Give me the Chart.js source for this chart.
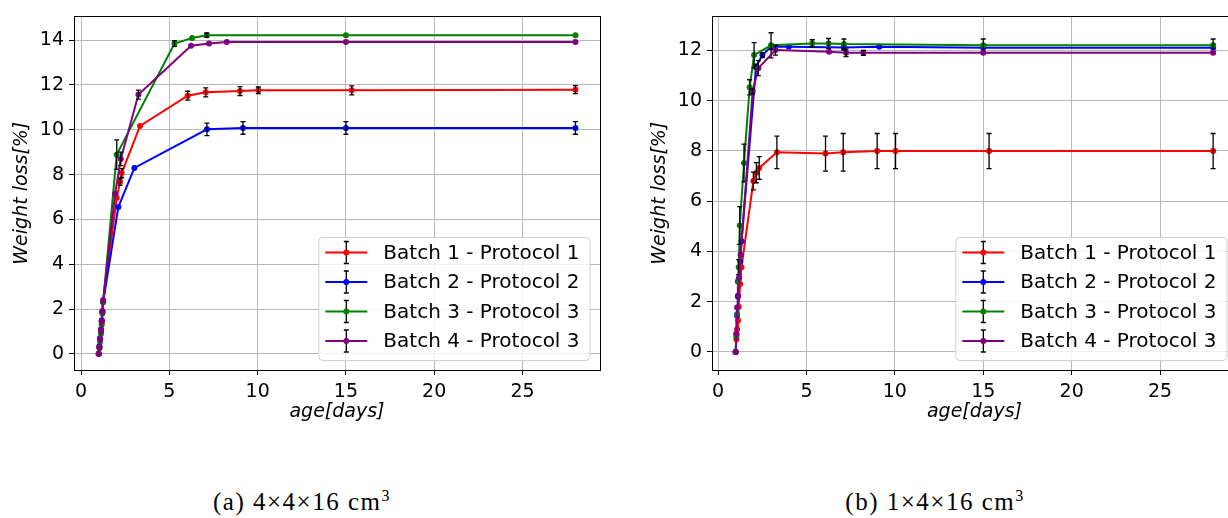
<!DOCTYPE html>
<html>
<head>
<title>Weight loss</title>
<script src="https://cdn.jsdelivr.net/npm/chart.js@4.4.0/dist/chart.umd.min.js"></script>
<style>
  body {
    margin: 0;
    width: 1228px;
    height: 518px;
    overflow: hidden;
    position: relative;
    background: #fff;
  }
  .box { position: absolute; top: 0; height: 440px; }
  #boxA { left: 0; width: 620px; }
  #boxB { left: 620px; width: 640px; }
  .cap {
    position: absolute;
    top: 487px;
    font-family: "Liberation Serif", serif;
    font-size: 25px;
    letter-spacing: 1.5px;
    white-space: nowrap;
    transform: translateX(-50%);
  }
  .cap sup { font-size: 16px; }
</style>
</head>
<body>
<div class="box" id="boxA"><canvas id="chartA"></canvas></div>
<div class="box" id="boxB"><canvas id="chartB"></canvas></div>
<div class="cap" style="left:302px">(a) 4×4×16 cm<sup>3</sup></div>
<div class="cap" style="left:935px">(b) 1×4×16 cm<sup>3</sup></div>

<script>
// legend labels and colours
var names = ['Batch 1 - Protocol 1', 'Batch 2 - Protocol 2', 'Batch 3 - Protocol 3', 'Batch 4 - Protocol 3'];
var colors = ['#ff0000', '#0000ff', '#008000', '#800080'];

// tick labels
var xTicks = [0, 5, 10, 15, 20, 25];
var yTicksA = [0, 2, 4, 6, 8, 10, 12, 14];
var yTicksB = [0, 2, 4, 6, 8, 10, 12];

// (a) 4x4x16 cm3
var a_x1 = [1.0, 1.04, 1.08, 1.13, 1.17, 1.21, 1.25, 2.02, 2.21, 2.3, 3.34, 6.04, 7.06, 9.0, 10.04, 15.33, 28.0];
var a_y1 = [0, 0.3, 0.65, 1.0, 1.4, 1.85, 2.35, 6.96, 7.67, 8.07, 10.17, 11.52, 11.67, 11.73, 11.76, 11.76, 11.79];
var a_e1 = [0, 0, 0, 0, 0, 0, 0, 0, 0.15, 0.2, 0, 0.2, 0.2, 0.2, 0.15, 0.2, 0.18];

var a_x2 = [1.0, 1.04, 1.08, 1.13, 1.17, 1.21, 1.25, 2.11, 3.02, 7.13, 9.17, 15.0, 28.0];
var a_y2 = [0, 0.35, 0.7, 1.1, 1.5, 1.9, 2.3, 6.55, 8.3, 10.02, 10.08, 10.08, 10.08];
var a_e2 = [0, 0, 0, 0, 0, 0, 0, 0, 0, 0.28, 0.28, 0.28, 0.28];

var a_x3 = [1.0, 1.04, 1.08, 1.13, 1.17, 1.21, 1.25, 2.02, 5.29, 6.29, 7.12, 15.0, 28.0];
var a_y3 = [0, 0.25, 0.55, 0.9, 1.3, 1.8, 2.3, 8.89, 13.85, 14.1, 14.22, 14.22, 14.22];
var a_e3 = [0, 0, 0, 0, 0, 0, 0, 0.66, 0.13, 0, 0.1, 0, 0];

var a_x4 = [1.0, 1.04, 1.08, 1.13, 1.17, 1.21, 1.25, 1.93, 2.25, 3.25, 6.23, 7.25, 8.25, 15.0, 28.0];
var a_y4 = [0, 0.3, 0.65, 1.05, 1.45, 1.9, 2.4, 7.15, 8.7, 11.57, 13.75, 13.85, 13.92, 13.92, 13.92];
var a_e4 = [0, 0, 0, 0, 0, 0, 0, 0, 0.3, 0.2, 0, 0, 0, 0, 0];

// (b) 1x4x16 cm3
var b_x1 = [1.0, 1.04, 1.08, 1.13, 1.17, 1.25, 1.33, 2.0, 2.17, 2.33, 3.33, 6.08, 7.08, 9.0, 10.04, 15.33, 28.0];
var b_y1 = [0, 0.5, 0.9, 1.25, 1.8, 2.7, 3.37, 6.8, 7.13, 7.32, 7.94, 7.89, 7.94, 7.99, 7.99, 7.99, 7.99];
var b_e1 = [0, 0, 0, 0, 0, 0, 0, 0.35, 0.4, 0.45, 0.65, 0.7, 0.75, 0.7, 0.7, 0.7, 0.7];

var b_x2 = [1.0, 1.04, 1.08, 1.12, 1.17, 1.25, 1.33, 2.15, 2.51, 3.0, 4.0, 7.12, 9.12, 15.0, 28.0];
var b_y2 = [0, 0.7, 1.44, 2.2, 2.9, 3.6, 4.4, 11.35, 11.81, 12.14, 12.14, 12.11, 12.14, 12.1, 12.1];
var b_e2 = [0, 0, 0, 0, 0, 0, 0, 0.1, 0.1, 0.1, 0, 0.1, 0, 0.15, 0.15];

var b_x3 = [1.0, 1.04, 1.08, 1.12, 1.17, 1.23, 1.47, 1.79, 2.04, 3.0, 5.33, 6.25, 7.12, 15.0, 28.0];
var b_y3 = [0, 0.6, 1.5, 2.8, 3.37, 5.03, 7.52, 10.53, 11.81, 12.2, 12.27, 12.27, 12.25, 12.2, 12.2];
var b_e3 = [0, 0, 0, 0, 0.3, 0.75, 0.75, 0.3, 0.5, 0.5, 0.15, 0.2, 0.2, 0.25, 0.25];

var b_x4 = [1.0, 1.04, 1.08, 1.13, 1.2, 1.28, 1.96, 2.28, 3.25, 6.28, 7.24, 8.22, 15.0, 28.0];
var b_y4 = [0, 0.72, 1.77, 2.23, 2.95, 3.87, 10.37, 11.29, 12.01, 11.94, 11.9, 11.9, 11.9, 11.9];
var b_e4 = [0, 0, 0, 0, 0, 0, 0.1, 0.3, 0.2, 0, 0.15, 0.1, 0, 0];

var FONT = 'DejaVu Sans';
var FS = 19;
var LEG_FS = 20;

function pts(xs, ys) {
  return xs.map(function (x, i) { return {x: x, y: ys[i]}; });
}

function makeSet(i, xs, ys, es) {
  return {
    label: names[i],
    data: pts(xs, ys),
    err: es,
    showLine: true,
    borderColor: colors[i],
    backgroundColor: colors[i],
    borderWidth: 2,
    pointRadius: 3,
    pointBorderWidth: 0,
    order: 3 - i   // later batches drawn on top, like matplotlib
  };
}

// black error bars, drawn right after each dataset
var errorBars = {
  id: 'errorBars',
  afterDatasetDraw: function (chart, args) {
    var ds = chart.data.datasets[args.index];
    if (!ds.err) return;
    var ctx = chart.ctx, xs = chart.scales.x, ys = chart.scales.y;
    ctx.save();
    ctx.strokeStyle = '#000';
    ctx.lineWidth = 1.3;
    ds.data.forEach(function (p, k) {
      var e = ds.err[k];
      if (!e) return;
      var px = xs.getPixelForValue(p.x);
      var y1 = ys.getPixelForValue(p.y - e), y2 = ys.getPixelForValue(p.y + e);
      ctx.beginPath();
      ctx.moveTo(px, y1); ctx.lineTo(px, y2);
      ctx.moveTo(px - 2.5, y1); ctx.lineTo(px + 2.5, y1);
      ctx.moveTo(px - 2.5, y2); ctx.lineTo(px + 2.5, y2);
      ctx.stroke();
    });
    ctx.restore();
  }
};

// full box round the plot + matplotlib-like legend at lower right
var frameLegend = {
  id: 'frameLegend',
  afterDraw: function (chart) {
    var ctx = chart.ctx, a = chart.chartArea;
    ctx.save();
    ctx.strokeStyle = '#000';
    ctx.lineWidth = 1;
    ctx.strokeRect(Math.round(a.left) + 0.5, Math.round(a.top) + 0.5,
      Math.round(a.right - a.left), Math.round(a.bottom - a.top));

    ctx.font = LEG_FS + 'px "' + FONT + '"';
    var tw = 0;
    names.forEach(function (n) { tw = Math.max(tw, ctx.measureText(n).width); });
    var rowH = 29.5;
    var w = 65 + tw + 10, h = rowH * names.length + 5;
    var right = a.right - 10.5, bottom = a.bottom - 10;
    var left = right - w, top = bottom - h;
    ctx.fillStyle = 'rgba(255,255,255,0.8)';
    ctx.strokeStyle = '#d0d0d0';
    ctx.beginPath();
    ctx.roundRect(left + 0.5, top + 0.5, w, h, 4);
    ctx.fill();
    ctx.stroke();
    ctx.textBaseline = 'middle';
    names.forEach(function (n, i) {
      var cy = top + 15.5 + i * rowH;
      ctx.strokeStyle = colors[i];
      ctx.lineWidth = 2;
      ctx.beginPath();
      ctx.moveTo(left + 7, cy); ctx.lineTo(left + 49, cy);
      ctx.stroke();
      var cx = left + 28;
      ctx.strokeStyle = '#000';
      ctx.lineWidth = 1.3;
      ctx.beginPath();
      ctx.moveTo(cx, cy - 11); ctx.lineTo(cx, cy + 11);
      ctx.moveTo(cx - 2.5, cy - 11); ctx.lineTo(cx + 2.5, cy - 11);
      ctx.moveTo(cx - 2.5, cy + 11); ctx.lineTo(cx + 2.5, cy + 11);
      ctx.stroke();
      ctx.fillStyle = colors[i];
      ctx.beginPath();
      ctx.arc(cx, cy, 3, 0, Math.PI * 2);
      ctx.fill();
      ctx.fillStyle = '#000';
      ctx.fillText(n, left + 65, cy + 1);
    });
    ctx.restore();
  }
};

function makeChart(id, sets, xr, yr, yTicks, yWidth, pad) {
  return new Chart(document.getElementById(id), {
    type: 'scatter',
    data: {datasets: sets},
    options: {
      responsive: true,
      maintainAspectRatio: false,
      animation: false,
      layout: {padding: pad},
      plugins: {legend: {display: false}, tooltip: {enabled: false}},
      scales: {
        x: {
          type: 'linear', min: xr[0], max: xr[1],
          afterBuildTicks: function (s) { s.ticks = xTicks.map(function (v) { return {value: v}; }); },
          afterFit: function (s) { s.height = 70; },
          grid: {color: '#b8b8b8', lineWidth: 1, tickColor: '#000', tickLength: 5},
          border: {display: false},
          ticks: {color: '#000', font: {family: FONT, size: FS}, padding: 6, maxRotation: 0},
          title: {display: true, text: 'age[days]', color: '#000',
                  font: {family: FONT, size: FS, style: 'italic'}, padding: {top: 0, bottom: 17}}
        },
        y: {
          type: 'linear', min: yr[0], max: yr[1],
          afterBuildTicks: function (s) { s.ticks = yTicks.map(function (v) { return {value: v}; }); },
          afterFit: function (s) { s.width = yWidth; },
          grid: {color: '#b8b8b8', lineWidth: 1, tickColor: '#000', tickLength: 5},
          border: {display: false},
          ticks: {color: '#000', font: {family: FONT, size: FS}, padding: 5},
          title: {display: true, text: 'Weight loss[%]', color: '#000',
                  font: {family: FONT, size: FS, style: 'italic'}, padding: {top: yWidth - 63, bottom: 0}}
        }
      }
    },
    plugins: [errorBars, frameLegend]
  });
}

makeChart('chartA', [
  makeSet(0, a_x1, a_y1, a_e1),
  makeSet(1, a_x2, a_y2, a_e2),
  makeSet(2, a_x3, a_y3, a_e3),
  makeSet(3, a_x4, a_y4, a_e4)
], [-0.4, 29.39], [-0.72, 15.06], yTicksA, 74, {top: 12.7, right: 20, left: 0, bottom: 0});

makeChart('chartB', [
  makeSet(0, b_x1, b_y1, b_e1),
  makeSet(1, b_x2, b_y2, b_e2),
  makeSet(2, b_x3, b_y3, b_e3),
  makeSet(3, b_x4, b_y4, b_e4)
], [-0.34, 29.35], [-0.72, 13.35], yTicksB, 92, {top: 12.7, right: 23, left: 0, bottom: 0});
</script>
</body>
</html>
